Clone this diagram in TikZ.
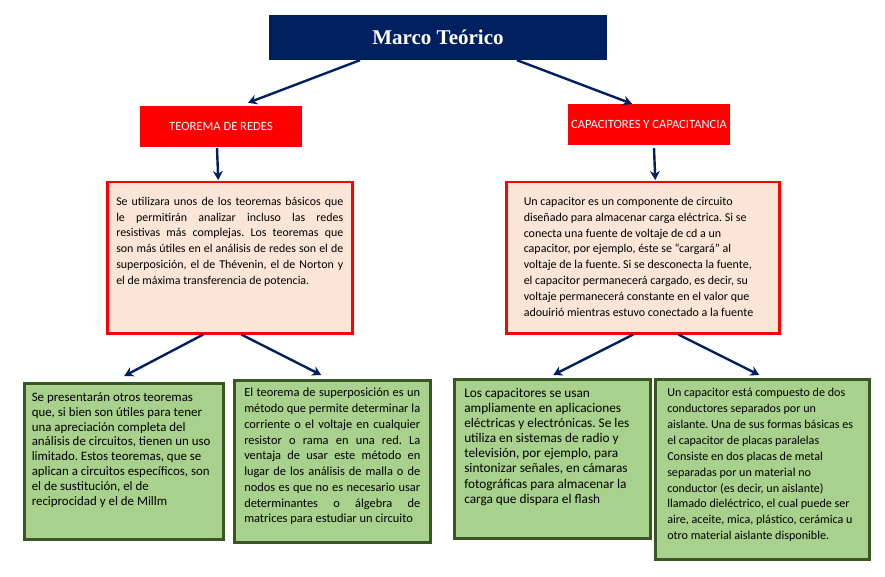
\documentclass[tikz,border=0pt]{standalone}
\usepackage{fontspec}
\setmainfont{Carlito}
\newfontfamily\titulofont{Liberation Serif}
\usepackage{xcolor}
\usetikzlibrary{arrows.meta}
\definecolor{azulmarino}{HTML}{002060}
\definecolor{rojo}{HTML}{FF0000}
\definecolor{durazno}{HTML}{FBE5D6}
\definecolor{verde}{HTML}{A9D18E}
\definecolor{verdeosc}{HTML}{385723}
\tikzset{
    titulo/.style={
        fill=azulmarino,
        text=white,
        minimum width=338pt,
        minimum height=45pt,
        font=\titulofont\bfseries\fontsize{21}{25}\selectfont
    },
    tema/.style={
        fill=rojo,
        text=white,
        minimum width=162pt,
        minimum height=41pt,
        font=\fontsize{12.6}{15}\selectfont
    },
    nota/.style={
        draw=rojo,
        fill=durazno,
        line width=2.5pt,
        anchor=north west,
        inner ysep=15pt
    },
    hoja/.style={
        draw=verdeosc,
        fill=verde,
        line width=2.5pt,
        anchor=north west
    },
    flow/.style={-{Stealth[length=9pt,width=10pt]}, line width=2.4pt, draw=azulmarino}
}
\newcommand{\bloque}[5]{\parbox[t][#3][t]{#2}{\fontsize{#1}{#4}\selectfont\frenchspacing #5}}

\begin{document}
\begin{tikzpicture}[x=1pt,y=-1pt]
        \useasboundingbox[fill=white] (0,0) rectangle (885,577);

        \node[titulo] (marco) at (438,37.5) {Marco Teórico};
        \node[tema] (teorema) at (221,126.5) {TEOREMA DE REDES};
        \node[tema] (capac) at (649,124.5) {CAPACITORES Y CAPACITANCIA};

        \node[nota, inner xsep=9pt] (redes) at (106,181) {\bloque{11.9pt}{227pt}{121pt}{15.7pt}{%
            Se utilizara unos de los teoremas básicos que\linebreak
            le permitirán analizar incluso las redes\linebreak
            resistivas más complejas. Los teoremas que\linebreak
            son más útiles en el análisis de redes son el de\linebreak
            superposición, el de Thévenin, el de Norton y\linebreak
            el de máxima transferencia de potencia.}};
        \node[nota, inner xsep=17.5pt] (capacitor) at (505,181) {\bloque{12pt}{238pt}{121pt}{15.8pt}{\raggedright
            Un capacitor es un componente de circuito\\
            diseñado para almacenar carga eléctrica. Si se\\
            conecta una fuente de voltaje de cd a un\\
            capacitor, por ejemplo, éste se “cargará” al\\
            voltaje de la fuente. Si se desconecta la fuente,\\
            el capacitor permanecerá cargado, es decir, su\\
            voltaje permanecerá constante en el valor que\\
            adouirió mientras estuvo conectado a la fuente}};

        \node[hoja, inner xsep=7.5pt, inner ysep=9.5pt] (otros) at (23,382) {\bloque{12.9pt}{184pt}{137pt}{14.8pt}{\raggedright
            Se presentarán otros teoremas\\
            que, si bien son útiles para tener\\
            una apreciación completa del\\
            análisis de circuitos, tienen un uso\\
            limitado. Estos teoremas, que se\\
            aplican a circuitos específicos, son\\
            el de sustitución, el de\\
            reciprocidad y el de Millm}};
        \node[hoja, inner xsep=10pt, inner ysep=8pt] (superpos) at (233,379) {\bloque{12.4pt}{176pt}{146pt}{15.75pt}{%
            El teorema de superposición es un\linebreak
            método que permite determinar la\linebreak
            corriente o el voltaje en cualquier\linebreak
            resistor o rama en una red. La\linebreak
            ventaja de usar este método en\linebreak
            lugar de los análisis de malla o de\linebreak
            nodos es que no es necesario usar\linebreak
            determinantes o álgebra de\linebreak
            matrices para estudiar un circuito}};
        \node[hoja, inner xsep=10pt, inner ysep=9pt] (usos) at (453,378) {\bloque{13.3pt}{176pt}{141pt}{15.1pt}{\raggedright
            Los capacitores se usan\\
            ampliamente en aplicaciones\\
            eléctricas y electrónicas. Se les\\
            utiliza en sistemas de radio y\\
            televisión, por ejemplo, para\\
            sintonizar señales, en cámaras\\
            fotográficas para almacenar la\\
            carga que dispara el flash}};
        \node[hoja, inner xsep=12pt, inner ysep=9pt] (placas) at (654,378) {\bloque{12.1pt}{190pt}{162pt}{15.9pt}{\raggedright
            Un capacitor está compuesto de dos\\
            conductores separados por un\\
            aislante. Una de sus formas básicas es\\
            el capacitor de placas paralelas\\
            Consiste en dos placas de metal\\
            separadas por un material no\\
            conductor (es decir, un aislante)\\
            llamado dieléctrico, el cual puede ser\\
            aire, aceite, mica, plástico, cerámica u\\
            otro material aislante disponible.}};

        \draw[flow] ([xshift=-78pt]marco.south) -- ([xshift=27pt,yshift=3pt]teorema.north);
        \draw[flow] ([xshift=79pt]marco.south) -- ([xshift=-17pt]capac.north);
        \draw[flow] ([xshift=-4pt,yshift=-1pt]teorema.south) -- ([xshift=-11.5pt,yshift=1pt]redes.north);
        \draw[flow] ([xshift=5pt,yshift=-3pt]capac.south) -- ([xshift=12.5pt,yshift=1pt]capacitor.north);
        \draw[flow] ([xshift=-26.5pt]redes.south) -- ([xshift=0.5pt,yshift=6pt]otros.north);
        \draw[flow] ([xshift=11.5pt]redes.south) -- ([xshift=-11pt,yshift=4pt]superpos.north);
        \draw[flow] ([xshift=-9.5pt]capacitor.south) -- ([xshift=1pt,yshift=3pt]usos.north);
        \draw[flow] ([xshift=35.5pt]capacitor.south) -- ([xshift=-3pt,yshift=3pt]placas.north);
    \end{tikzpicture}
\end{document}
